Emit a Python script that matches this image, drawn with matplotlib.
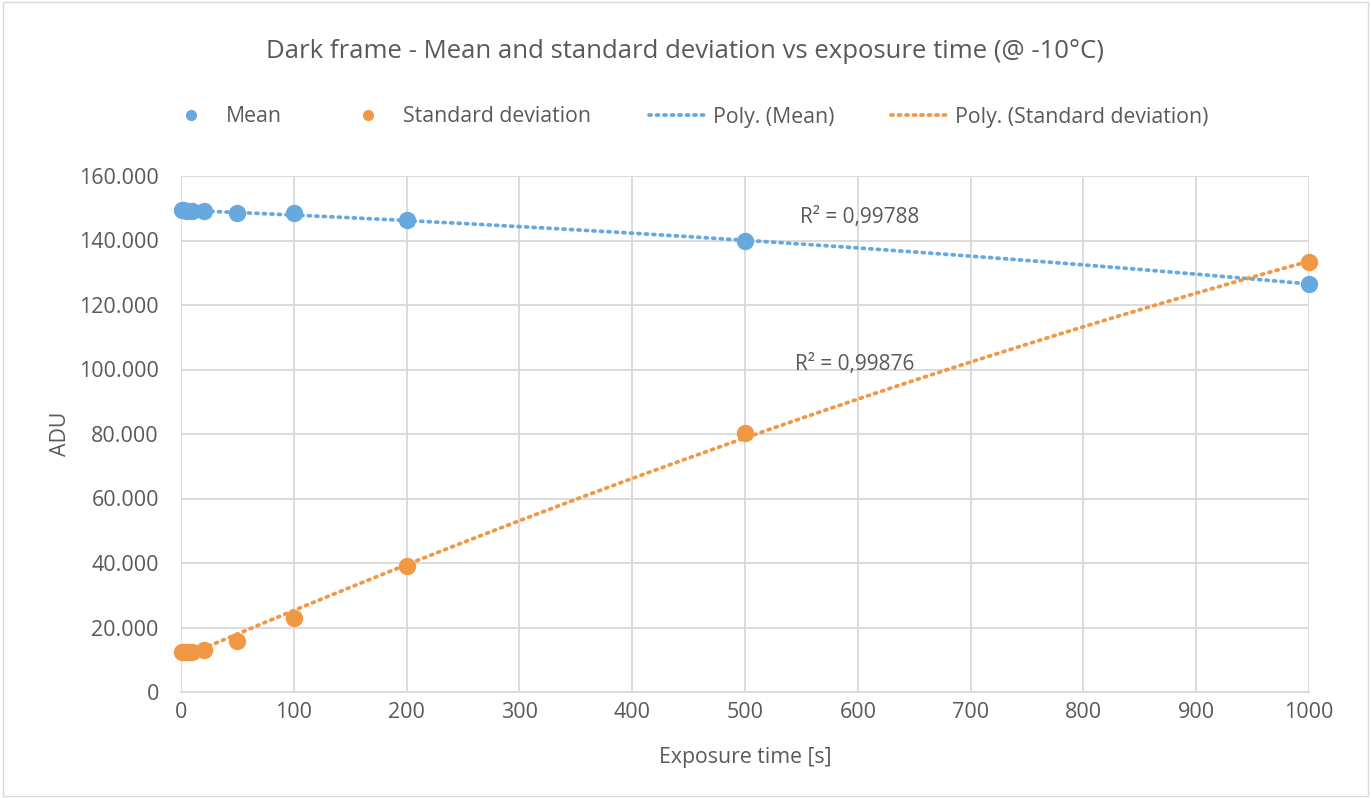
import numpy as np
import matplotlib.pyplot as plt
from matplotlib.ticker import FuncFormatter
from matplotlib.lines import Line2D
from matplotlib.patches import Rectangle

plt.rcParams['font.family'] = ['Open Sans', 'DejaVu Sans']

exposure = [1, 2, 5, 10, 20, 50, 100, 200, 500, 1000]
mean_adu = [149500, 149400, 149200, 149000, 149000, 148600, 148500, 146500, 139700, 126600]
std_adu = [12300, 12300, 12400, 12500, 13000, 15700, 22800, 39000, 80400, 133200]
r2_labels = ['R² = 0,99788', 'R² = 0,99876']

blue = '#67A9DF'
orange = '#F19844'
txt = '#595959'
grid = '#D9D9D9'
dots = (0, (0.55, 1.45))

fig = plt.figure(figsize=(13.71, 7.98), dpi=100)
ax = fig.add_axes([181 / 1371, 1 - 692 / 798, (1309 - 181) / 1371, (692 - 176) / 798])

xs = np.linspace(0, 1000, 400)
for ys, c in [(mean_adu, blue), (std_adu, orange)]:
    p = np.polyfit(exposure, ys, 2)
    ax.plot(xs, np.polyval(p, xs), color=c, lw=2.7, ls=dots,
            dash_capstyle='round', zorder=2)
    ax.plot(exposure, ys, 'o', color=c, ms=11.5, zorder=3, clip_on=False)

ax.text(602, 147000, r2_labels[0], color=txt, fontsize=15, ha='center', va='center')
ax.text(597, 101700, r2_labels[1], color=txt, fontsize=15, ha='center', va='center')

ax.set_xlim(0, 1000)
ax.set_ylim(0, 160000)
ax.set_xticks(range(0, 1001, 100))
ax.set_yticks(range(0, 160001, 20000))
ax.yaxis.set_major_formatter(FuncFormatter(lambda v, _: f'{int(v):,}'.replace(',', '.')))
ax.grid(True, color=grid, lw=1.3)
ax.set_axisbelow(True)
for s in ['top', 'right', 'left']:
    ax.spines[s].set_visible(False)
ax.spines['bottom'].set_color(grid)
ax.spines['bottom'].set_linewidth(1.3)
ax.tick_params(length=0, colors=txt, labelsize=15.5)
ax.tick_params(axis='y', pad=16)
ax.tick_params(axis='x', pad=7)

ax.set_xlabel('Exposure time [s]', color=txt, fontsize=15.3)
ax.set_ylabel('ADU', color=txt, fontsize=15.3)
ax.xaxis.set_label_coords(0.5, -(757 - 692) / 516, transform=ax.transAxes)
ax.yaxis.set_label_coords(-(181 - 60) / 1128, 0.5, transform=ax.transAxes)
ax.xaxis.label.set_va('center')
ax.yaxis.label.set_va('center')

fig.text(0.5, 1 - 51 / 798, 'Dark frame - Mean and standard deviation vs exposure time (@ -10°C)',
         color=txt, fontsize=18.5, ha='center', va='center')

handles = [
    Line2D([], [], ls='none', marker='o', color=blue, ms=7),
    Line2D([], [], ls='none', marker='o', color=orange, ms=7),
    Line2D([], [], color=blue, lw=2.7, ls=dots, dash_capstyle='round'),
    Line2D([], [], color=orange, lw=2.7, ls=dots, dash_capstyle='round'),
]
labels = ['Mean', 'Standard deviation', 'Poly. (Mean)', 'Poly. (Standard deviation)']
leg = fig.legend(handles, labels, loc='center', bbox_to_anchor=(0.5, 1 - 117 / 798), ncol=4,
                 frameon=False, fontsize=15.3, handlelength=2.7, columnspacing=2.7,
                 handletextpad=0.3)
for t in leg.get_texts():
    t.set_color(txt)

fig.patches.append(Rectangle((0.002, 0.002), 0.996, 0.996, transform=fig.transFigure,
                             fill=False, edgecolor=grid, lw=1))

fig.savefig('out.png', dpi=100)
